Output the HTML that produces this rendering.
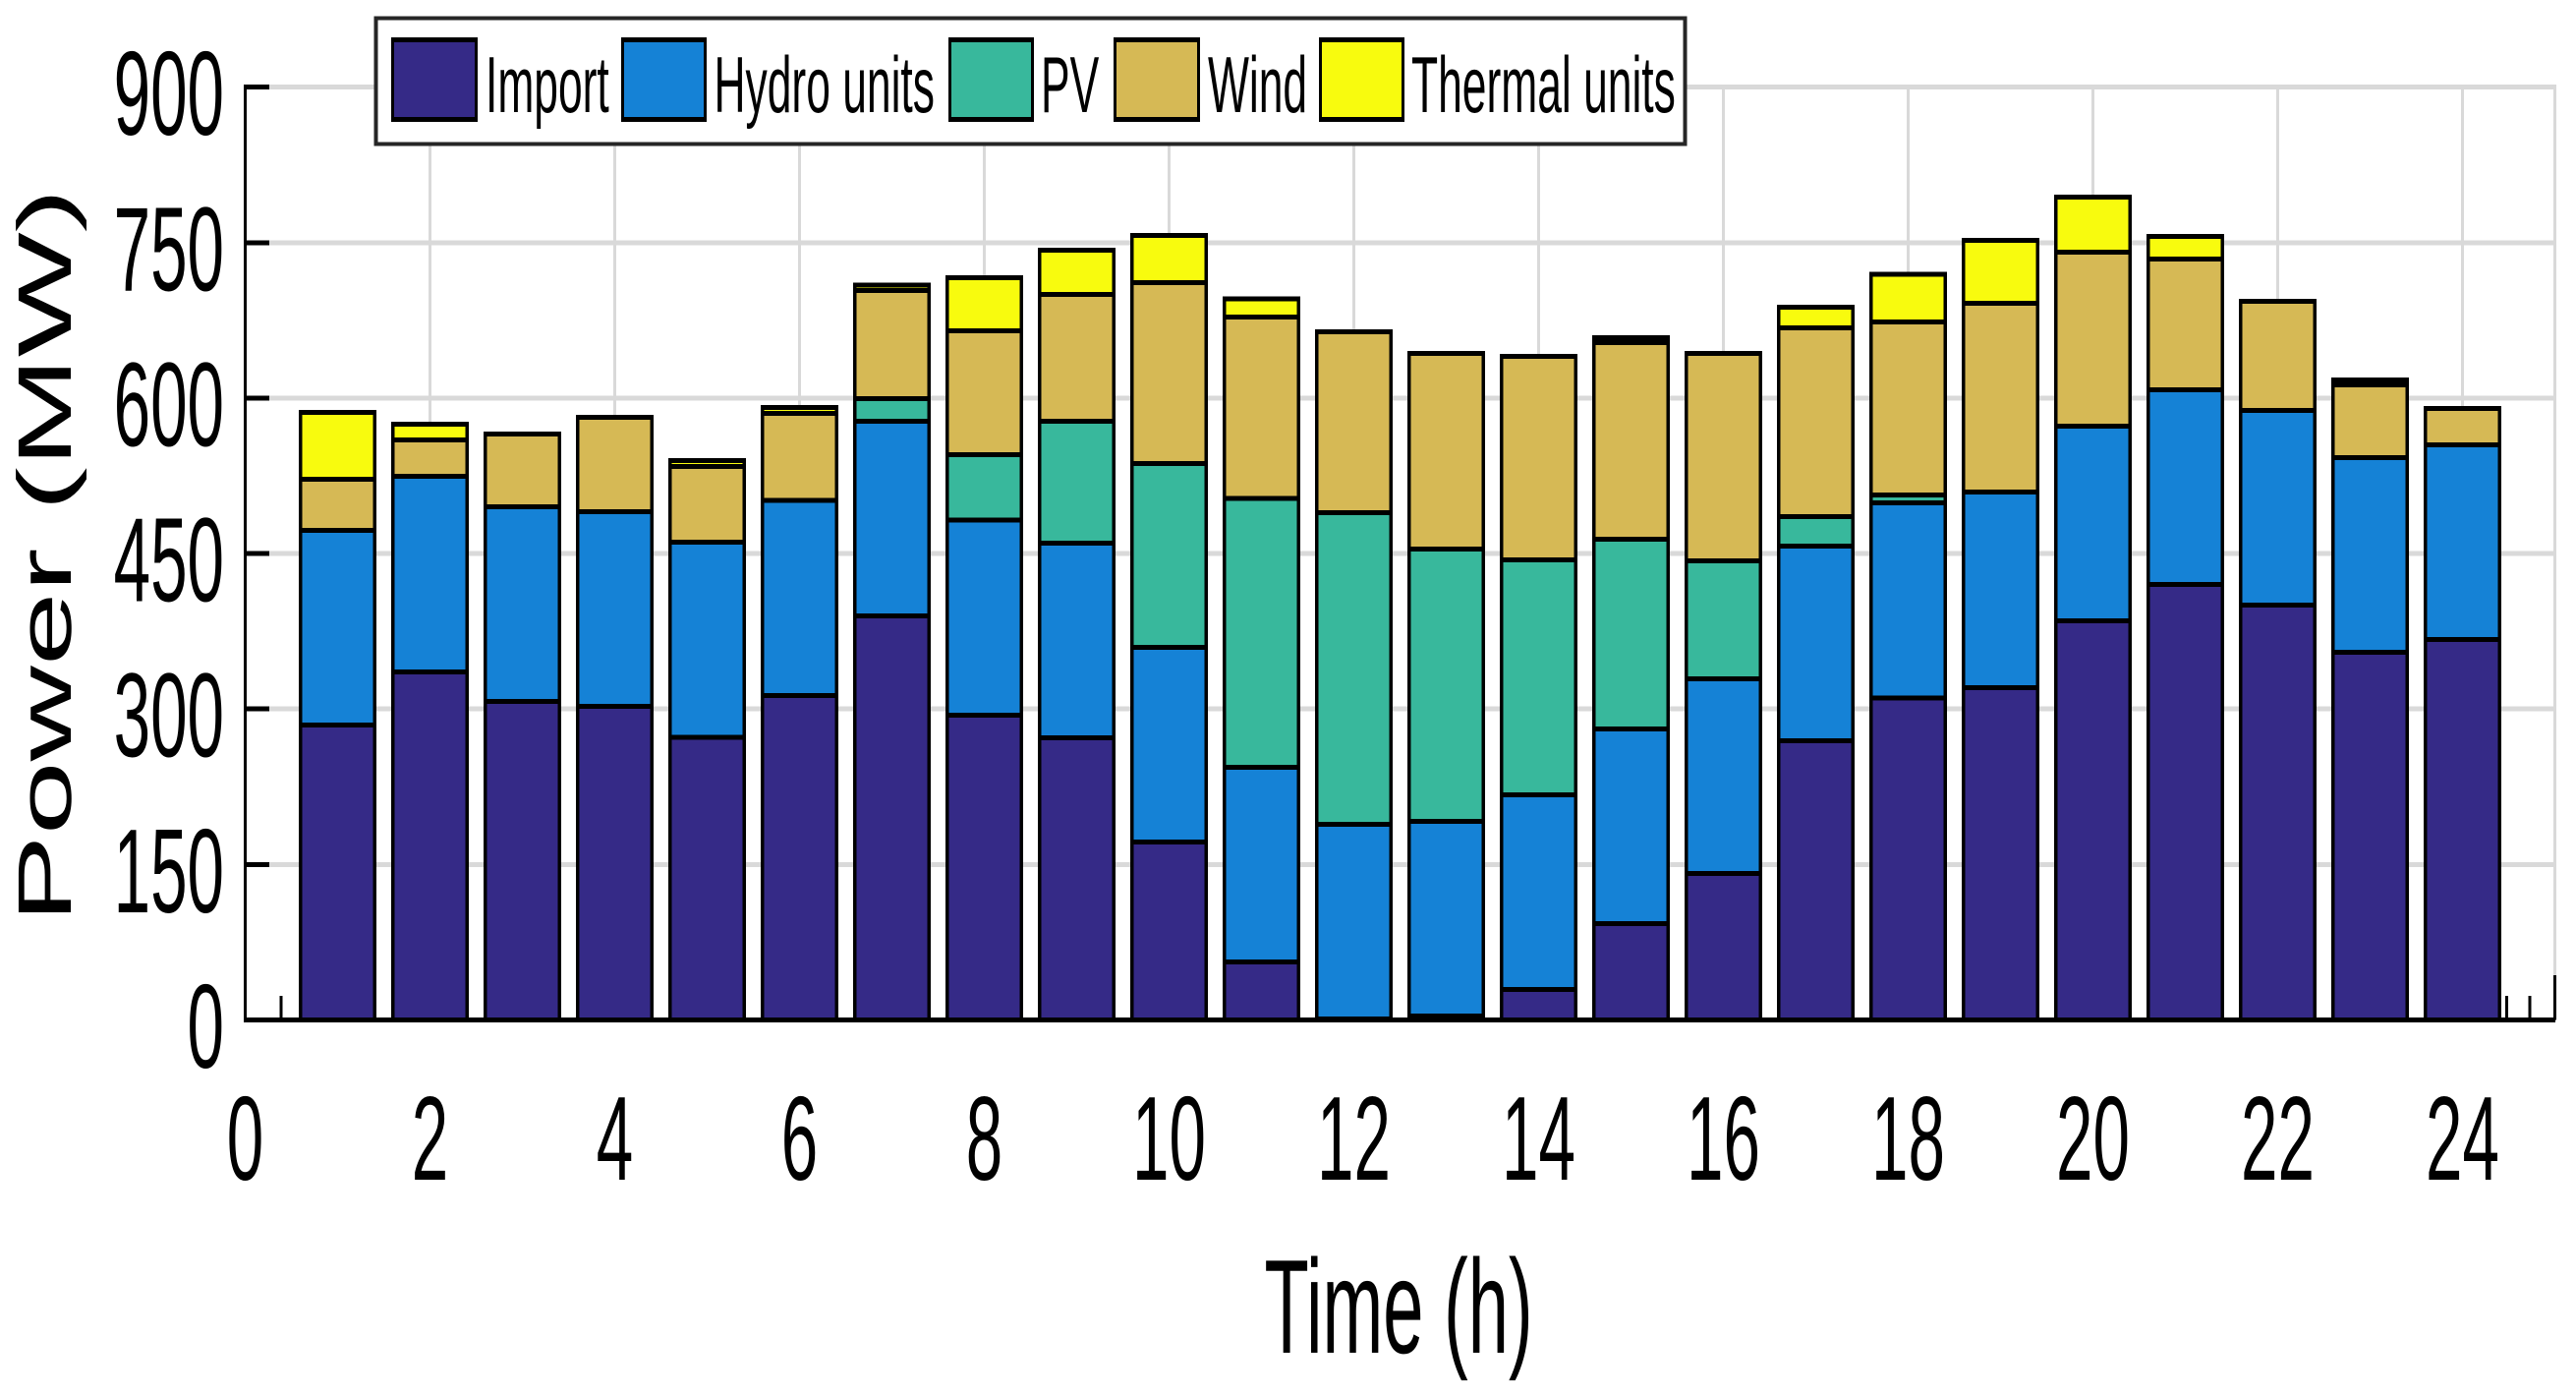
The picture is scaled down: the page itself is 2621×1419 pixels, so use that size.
<!DOCTYPE html>
<html lang="en">
<head>
<meta charset="utf-8">
<title>Power by source over time</title>
<style>
html,body{margin:0;padding:0;background:#fff;}
svg{display:block;}
text{font-family:"Liberation Sans",sans-serif;fill:#000;}
rect{shape-rendering:crispEdges;}
</style>
</head>
<body>
<svg id="chart" xmlns="http://www.w3.org/2000/svg" width="2621" height="1419" viewBox="0 0 2621 1419">
  <rect x="0" y="0" width="2621" height="1419" fill="#ffffff"/>
  <g id="grid"></g>
  <g id="bars"></g>
  <g id="axes"></g>
  <g id="ylabels"></g>
  <g id="xlabels"></g>
  <text font-size="136" transform="translate(1286.5,1376) scale(0.545,1)">Time (h)</text>
  <text font-size="133" transform="translate(72,939) rotate(-90) scale(1.012,0.58)">Power (MW)</text>
  <g>
    <rect x="382.5" y="18.5" width="1332" height="128" fill="#ffffff" stroke="#262626" stroke-width="4"/>
    <g>
      <rect x="398" y="38" width="88" height="86" fill="#000"/>
      <rect x="401" y="43" width="82" height="76" fill="#352a87"/>
      <text font-size="81" transform="translate(494,114) scale(0.548,1)">Import</text>
    </g>
    <g>
      <rect x="632" y="38" width="87" height="86" fill="#000"/>
      <rect x="635" y="43" width="81" height="76" fill="#1582d6"/>
      <text font-size="81" transform="translate(726.5,114) scale(0.548,1)">Hydro units</text>
    </g>
    <g>
      <rect x="965" y="38" width="87" height="86" fill="#000"/>
      <rect x="968" y="43" width="81" height="76" fill="#38b89c"/>
      <text font-size="81" transform="translate(1059,114) scale(0.548,1)">PV</text>
    </g>
    <g>
      <rect x="1133" y="38" width="88" height="86" fill="#000"/>
      <rect x="1136" y="43" width="82" height="76" fill="#d6b955"/>
      <text font-size="81" transform="translate(1229,114) scale(0.548,1)">Wind</text>
    </g>
    <g>
      <rect x="1342" y="38" width="87" height="86" fill="#000"/>
      <rect x="1345" y="43" width="81" height="76" fill="#f8fb0e"/>
      <text font-size="81" transform="translate(1436,114) scale(0.548,1)">Thermal units</text>
    </g>
  </g>
</svg>
<script>
const hours = [1,2,3,4,5,6,7,8,9,10,11,12,13,14,15,16,17,18,19,20,21,22,23,24];
const importPower = [284.6,335.8,307.3,302.6,272.7,313,389.9,294.1,272.2,171.7,56,1,3.8,29.4,93,141.3,269.4,310.7,320.6,385.1,420.2,400.3,354.8,367.1];
const hydroPower = [187.8,188.8,187.9,187.8,188.3,188.3,187.8,188.3,187.9,187.8,187.8,187.8,187.8,187.8,187.8,187.9,187.8,188.3,188.8,187.9,187.9,187.8,187.8,187.8];
const pvPower = [0,0,0,0,0,0,21.8,63,117.6,177.4,259.4,300.7,262.8,226.7,183.1,113.8,28.5,7.6,0,0,0,0,0,0];
const windPower = [49.3,35.1,70.2,91.1,73.1,84,104.4,119.6,122.4,174.6,175,174.5,188.8,196.4,189.7,200.2,182.1,167,182.1,168,126.1,105.3,70.2,35.1];
const thermalPower = [64.5,15.2,0,0,5.7,5.7,5.2,51.2,42.7,45.5,17.6,0,0,0,4.7,0,19.9,46,60.7,53,21.8,0,4.7,0];
const yTickValues = [0,150,300,450,600,750,900];
const xTickValues = [0,2,4,6,8,10,12,14,16,18,20,22,24];
const xGridValues = [2,4,6,8,10,12,14,16,18,20,22,24,25];
const xMinorTicks = [0.39,24.48,24.73];
const seriesNames = ['import','hydro','pv','wind','thermal'];
const seriesColors = ['#352a87','#1582d6','#38b89c','#d6b955','#f8fb0e'];
const seriesValues = [importPower,hydroPower,pvPower,windPower,thermalPower];

const X0 = 249.5, XK = 94, Y0 = 1037.5, YK = 1.0542, BAR_W = 0.8;
function xScale(t){ return X0 + XK * t; }
function yScale(v){ return Y0 - YK * v; }
const NS = 'http://www.w3.org/2000/svg';
function shape(parent, tag, geo){
  const el = document.createElementNS(NS, tag);
  for (const k in geo) el.setAttribute(k, geo[k]);
  parent.appendChild(el);
  return el;
}
const GRID = '#d9d9d9';
const gridG = document.getElementById('grid');
yTickValues.forEach(function(v){
  if (v === 0) return;
  const el = shape(gridG, 'rect', {x: X0, y: yScale(v) - 2.5, width: xScale(25) + 1 - X0, height: 5, fill: GRID});
  
  
});
xGridValues.forEach(function(t){
  const el = shape(gridG, 'rect', {x: xScale(t) - 1.5, y: yScale(900) - 2.5, width: 3, height: YK * 900 + 2.5, fill: GRID});
  
  
});

const barsG = document.getElementById('bars');
hours.forEach(function(h, i){
  const cx = xScale(h), outer = BAR_W * XK + 3.8, bx = 3.5, by = 2.5;
  let base = 0;
  const group = shape(barsG, 'g', {});
  
  
  seriesValues.forEach(function(vals, s){
    const top = base + vals[i];
    if (vals[i] > 0) {
      const yt = yScale(top), yb = yScale(base);
      const edge = shape(group, 'rect', {x: cx - outer / 2, y: yt - by, width: outer, height: yb - yt + 2 * by, fill: '#000'});
      
      
      const innerH = yb - yt - 2 * by;
      if (innerH > 0) {
        const fill = shape(group, 'rect', {x: cx - outer / 2 + bx, y: yt + by, width: outer - 2 * bx, height: innerH, fill: seriesColors[s]});
        
        
      }
    }
    base = top;
  });
});

const axesG = document.getElementById('axes');
const yAxis = shape(axesG, 'rect', {x: X0 - 1.5, y: yScale(900) - 2.5, width: 3, height: YK * 900 + 5, fill: '#000'});


const xAxis = shape(axesG, 'rect', {x: X0 - 1.5, y: Y0 - 2.5, width: xScale(25) + 2 - X0, height: 5, fill: '#000'});


yTickValues.forEach(function(v){
  const el = shape(axesG, 'rect', {x: X0, y: yScale(v) - 2.5, width: 24.5, height: 5, fill: '#000'});
  
  
});
xMinorTicks.forEach(function(t){
  const el = shape(axesG, 'rect', {x: xScale(t) - 1.5, y: Y0 - 24.5, width: 3, height: 24.5, fill: '#000'});
  
  
});
const endTick = shape(axesG, 'rect', {x: xScale(25) - 1.5, y: Y0 - 45.5, width: 3, height: 45.5, fill: '#000'});



const ylabelsG = document.getElementById('ylabels');
yTickValues.forEach(function(v){
  const el = shape(ylabelsG, 'text', {'font-size': 122, 'text-anchor': 'end', transform: 'translate(228,' + (yScale(v) + 48.5) + ') scale(0.552,1)'});
  el.textContent = String(v);
  
  
});
const xlabelsG = document.getElementById('xlabels');
xTickValues.forEach(function(t){
  const el = shape(xlabelsG, 'text', {'font-size': 122, 'text-anchor': 'middle', transform: 'translate(' + xScale(t) + ',1200) scale(0.552,1)'});
  el.textContent = String(t);
  
  
});
</script>
</body>
</html>
